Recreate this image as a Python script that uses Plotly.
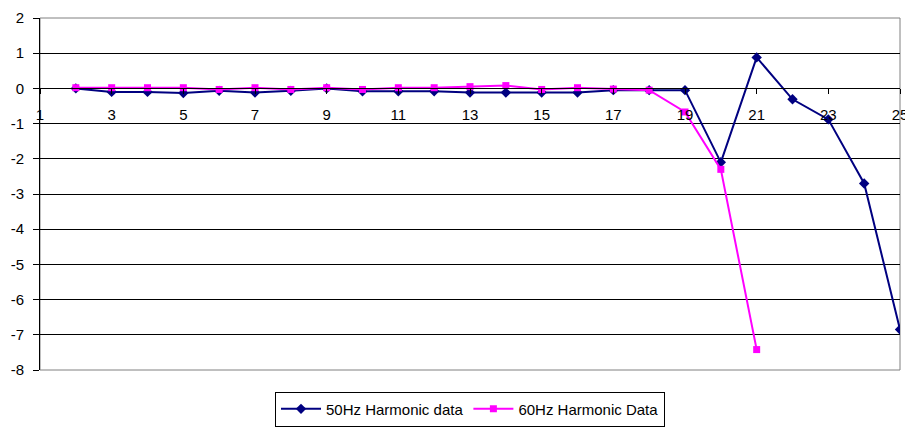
import plotly.graph_objects as go

categories = list(range(1, 26))
x_ticks = [1, 3, 5, 7, 9, 11, 13, 15, 17, 19, 21, 23, 25]
y_ticks = [2, 1, 0, -1, -2, -3, -4, -5, -6, -7, -8]

hz50_x = list(range(2, 26))
hz50_y = [0.0, -0.1, -0.1, -0.13, -0.07, -0.12, -0.07, 0.0, -0.08, -0.08, -0.08, -0.12,
          -0.12, -0.12, -0.12, -0.05, -0.05, -0.05, -2.1, 0.88, -0.31, -0.88, -2.7, -6.85]

hz60_x = list(range(2, 22))
hz60_y = [0.02, 0.02, 0.02, 0.02, -0.03, 0.02, -0.03, 0.02, -0.03, 0.02, 0.02, 0.05,
          0.08, -0.03, 0.02, -0.02, -0.05, -0.67, -2.3, -7.42]

font = dict(family="Liberation Sans, Arial, sans-serif", size=15, color="black")
legend_font = dict(family="Liberation Sans, Arial, sans-serif", size=15, color="black")

fig = go.Figure()
fig.add_trace(go.Scatter(x=hz50_x, y=hz50_y, mode="lines+markers", name="50Hz Harmonic data",
                         line=dict(color="#000080", width=2),
                         marker=dict(symbol="diamond", size=8, color="#000080")))
fig.add_trace(go.Scatter(x=hz60_x, y=hz60_y, mode="lines+markers", name="60Hz Harmonic Data",
                         line=dict(color="#FF00FF", width=2),
                         marker=dict(symbol="square", size=7, color="#FF00FF")))

fig.update_layout(
    width=905, height=420,
    margin=dict(l=32, r=13, t=10, b=58),
    paper_bgcolor="white", plot_bgcolor="white",
    font=font,
    showlegend=True,
    legend=dict(orientation="h", x=0.5, xanchor="center",
                yref="container", y=0.045, yanchor="middle",
                bordercolor="black", borderwidth=1, bgcolor="white", font=legend_font,
                itemwidth=40),
    xaxis=dict(range=[1, 25], tickmode="array", tickvals=x_ticks,
               ticktext=[str(v) for v in x_ticks], automargin=False,
               showgrid=False, zeroline=False, showline=True, linecolor="black", linewidth=1,
               ticks="outside", ticklen=5, tickcolor="black",
               anchor="free", position=0.8, ticklabelstandoff=8, tickfont=font),
    yaxis=dict(range=[-8, 2], tickmode="array", tickvals=y_ticks,
               ticktext=[str(v) for v in y_ticks], automargin=False,
               showgrid=True, gridcolor="black", gridwidth=1, zeroline=False,
               showline=True, linecolor="black", linewidth=1,
               ticks="outside", ticklen=6, tickcolor="black", ticklabelstandoff=6,
               tickfont=font),
    shapes=[dict(type="rect", xref="paper", yref="paper", x0=0, x1=1, y0=0, y1=1,
                 line=dict(color="#808080", width=1), layer="below")],
)

fig.write_html("out.html")
